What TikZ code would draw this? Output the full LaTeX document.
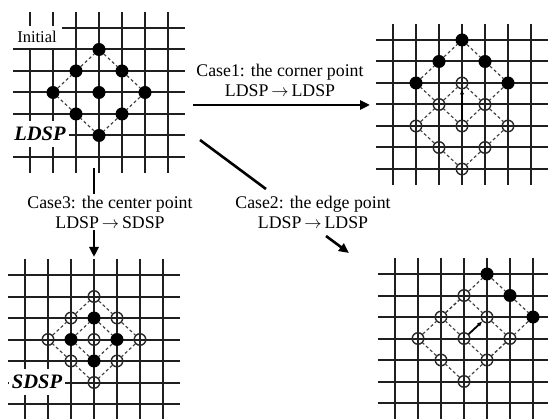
\documentclass[tikz,border=0pt]{standalone}
\usepackage{fontspec}
\setmainfont{Liberation Serif}
\usetikzlibrary{arrows.meta}

\tikzstyle{mesh} = [line width=2pt, black!88]
\tikzstyle{rim} = [dash pattern=on 3pt off 2.5pt, line width=1.2pt, black!75]
\tikzstyle{full} = [circle, fill, minimum size=13pt, inner sep=0pt]
\tikzstyle{hollow} = [circle, draw=black!85, line width=1.4pt, minimum size=11.5pt, inner sep=0pt]
\tikzstyle{case} = [align=center, inner sep=2pt, font=\fontsize{17.8}{20}\selectfont]
\tikzstyle{note} = [fill=white, inner xsep=5pt, inner ysep=5pt, font=\fontsize{16.5}{18}\selectfont]
\tikzstyle{tag} = [fill=white, inner xsep=3pt, inner ysep=6pt, font=\fontsize{20.5}{22}\selectfont\bfseries\itshape]
\tikzstyle{move} = [line width=2.6pt, -{Triangle[length=10pt,width=9pt]}]
\tikzstyle{bar} = [line width=2.6pt]
\tikzstyle{hop} = [line width=1.8pt, -{Latex[length=5pt,width=4.5pt]}]

% the seven by seven search mesh, in cell units
\newcommand{\meshlines}{%
  \foreach \k in {0,...,6} {
    \draw[mesh] (\k,-0.75) -- (\k,6.75);
    \draw[mesh] (-0.75,\k) -- (6.75,\k);
  }}

\begin{document}
\begin{tikzpicture}[x=1pt, y=-1pt]
\useasboundingbox (0,0) rectangle (548,419);

%begin mesh-initial
\begin{scope}[shift={(30pt,-28pt)}, x=23pt, y=-21.5pt]
  \meshlines
  \foreach \i/\j in {3/1,2/2,4/2,1/3,3/3,5/3,2/4,4/4,3/5}
    \node[full] (a\i\j) at (\i,\j) {};
  \draw[rim] (a13) -- (a22) -- (a31) -- (a42) -- (a53) -- (a44) -- (a35) -- (a24) -- (a13);
\end{scope}
\node[note] (initial) at (37,37) {Initial};
\node[tag] (ldsp) at (40,134) {LDSP};
%end mesh-initial

%begin mesh-corner
\begin{scope}[shift={(393pt,-40pt)}, x=23pt, y=-21.5pt]
  \meshlines
  \foreach \i/\j in {3/0,2/1,4/1,1/2,5/2}
    \node[full] (b\i\j) at (\i,\j) {};
  \foreach \i/\j in {3/2,2/3,4/3,1/4,3/4,5/4,2/5,4/5,3/6}
    \node[hollow] (b\i\j) at (\i,\j) {};
  \draw[rim] (b12) -- (b21) -- (b30) -- (b41) -- (b52) -- (b43) -- (b34) -- (b23) -- (b12);
  \draw[rim] (b14) -- (b23) -- (b32) -- (b43) -- (b54) -- (b45) -- (b36) -- (b25) -- (b14);
  \draw[hop] (b34) -- (b32);
\end{scope}
%end mesh-corner

%begin mesh-edge
\begin{scope}[shift={(395pt,-274pt)}, x=23pt, y=-21.5pt]
  \meshlines
  \foreach \i/\j in {4/0,5/1,6/2}
    \node[full] (c\i\j) at (\i,\j) {};
  \foreach \i/\j in {3/1,2/2,4/2,1/3,3/3,5/3,2/4,4/4,3/5}
    \node[hollow] (c\i\j) at (\i,\j) {};
  \draw[rim] (c22) -- (c31) -- (c40) -- (c51) -- (c62) -- (c53) -- (c44) -- (c33) -- (c22);
  \draw[rim] (c13) -- (c22) -- (c31) -- (c42) -- (c53) -- (c44) -- (c35) -- (c24) -- (c13);
  \draw[hop] (c33) -- (c42);
\end{scope}
%end mesh-edge

%begin mesh-center
\begin{scope}[shift={(25pt,-275pt)}, x=23pt, y=-21.5pt]
  \meshlines
  \foreach \i/\j in {3/1,2/2,4/2,1/3,3/3,5/3,2/4,4/4,3/5}
    \node[hollow] (d\i\j) at (\i,\j) {};
  \foreach \i/\j in {3/2,2/3,4/3,3/4}
    \node[full] (d\i\j) at (\i,\j) {};
  \draw[rim] (d13) -- (d22) -- (d31) -- (d42) -- (d53) -- (d44) -- (d35) -- (d24) -- (d13);
  \draw[rim] (d32) -- (d43) -- (d34) -- (d23) -- (d32);
\end{scope}
\node[tag] (sdsp) at (37,382) {SDSP};
%end mesh-center

%begin cases
\node[case] (case1) at (280,80) {Case1: the corner point\\LDSP$\,\rightarrow\,$LDSP};
\node[case] (case2) at (313,212) {Case2: the edge point\\LDSP$\,\rightarrow\,$LDSP};
\node[case] (case3) at (110,212) {Case3: the center point\\LDSP$\,\rightarrow\,$SDSP};

\coordinate (c1s) at (193,105);
\coordinate (c1e) at (370,105);
\draw[move] (c1s) -- (c1e);

\coordinate (c2s) at (200,140);
\coordinate (c2a) at (266,189);
\coordinate (c2b) at (326,236);
\coordinate (c2e) at (349,253);
\draw[bar] (c2s) -- (c2a);
\draw[move] (c2b) -- (c2e);

\coordinate (c3s) at (94,168);
\coordinate (c3e) at (94,257);
\draw[bar] (c3s) -- (c3s |- case3.north);
\draw[move] (c3e |- case3.south) -- (c3e);
%end cases
\end{tikzpicture}
\end{document}
